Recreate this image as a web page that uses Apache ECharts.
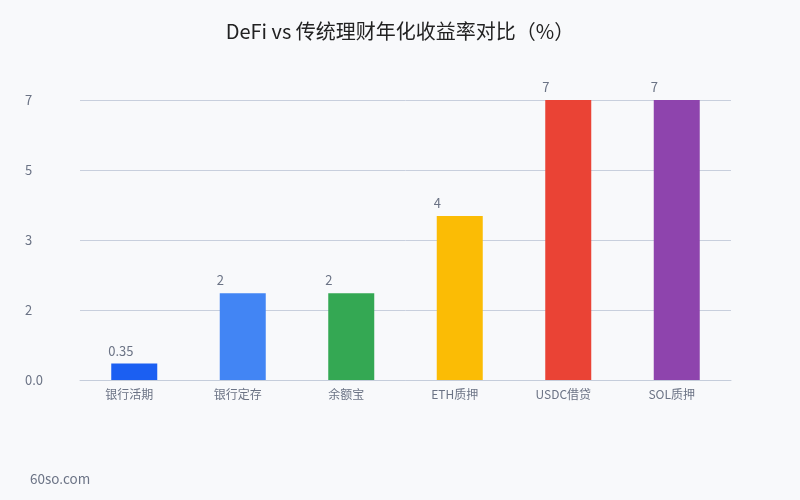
<!DOCTYPE html>
<html><head><meta charset="utf-8">
<script src="https://cdn.jsdelivr.net/npm/echarts@6/dist/echarts.min.js"></script>
<style>html,body{margin:0;padding:0;background:#f8f9fb}#c{width:800px;height:500px}</style>
</head><body><div id="c"></div>
<script>
const categories = ["银行活期","银行定存","余额宝","ETH质押","USDC借贷","SOL质押"];
const values = [0.41, 2.17, 2.17, 4.1, 7, 7];
const barLabels = ["0.35","2","2","4","7","7"];
const barColors = ["#1b5ff2","#4285f4","#34a853","#fbbc05","#ea4335","#8e44ad"];
const yTickLabels = ["0.0","2","3","5","7"];
const yMax = 7;

const chart = echarts.init(document.getElementById('c'), null, {renderer:'canvas'});
const font = '"Noto Sans CJK SC","Noto Sans",sans-serif';
chart.setOption({
  backgroundColor:'#f8f9fb',
  animation:false,
  textStyle:{fontFamily:font},
  title:{text:'DeFi vs 传统理财年化收益率对比（%）',left:'center',top:16,
    textStyle:{fontSize:20,fontWeight:'normal',color:'#222',fontFamily:font}},
  graphic:[{type:'text',left:30,top:472,style:{text:'60so.com',fontSize:13.5,fill:'#6b7385',fontFamily:font}}],
  grid:{left:80,right:69,top:100,bottom:120,containLabel:false},
  xAxis:{type:'category',data:categories,
    axisLine:{lineStyle:{color:'#c5cddb'}},axisTick:{show:false},
    axisLabel:{color:'#6b7385',fontSize:12,margin:8,padding:[0,10,0,0]}},
  yAxis:{type:'value',min:0,max:yMax,interval:yMax/4,
    axisLine:{show:false},axisTick:{show:false},
    splitLine:{lineStyle:{color:'#c8cfdd'}},
    axisLabel:{color:'#6b7385',fontSize:13,align:'left',margin:55,
      formatter:(v)=>yTickLabels[Math.round(v/(yMax/4))]}},
  series:[{type:'bar',barWidth:46,
    data:values.map((v,i)=>({value:v,itemStyle:{color:barColors[i]},
      label:{formatter:barLabels[i]}})),
    label:{show:true,position:[-3,-13],align:'left',verticalAlign:'middle',
      color:'#6b7385',fontSize:13}}]
});
</script></body></html>
